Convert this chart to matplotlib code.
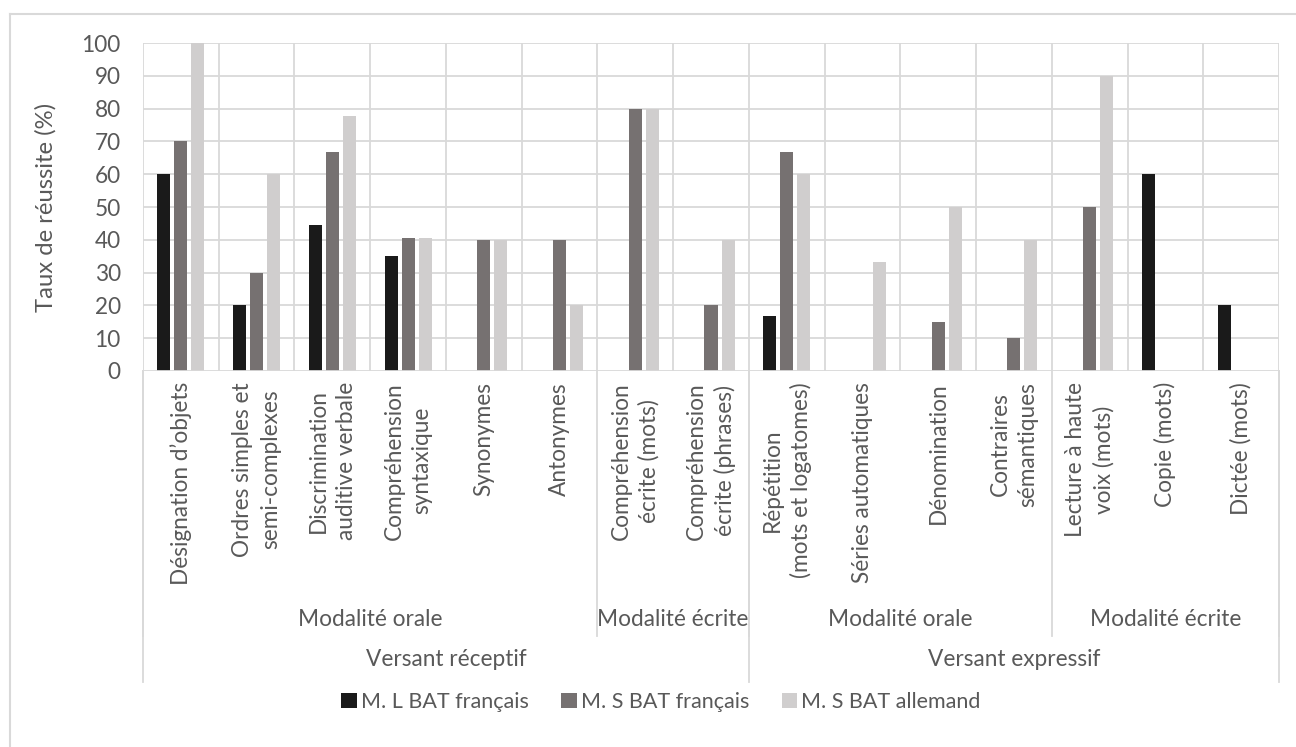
import matplotlib
matplotlib.use("Agg")
import matplotlib.pyplot as plt
from matplotlib.lines import Line2D
from matplotlib.patches import Patch
from matplotlib.transforms import blended_transform_factory
import numpy as np

plt.rcParams['font.family'] = ['Lato', 'DejaVu Sans']

# Subtests (leaf categories)
categories = [
    "Désignation d’objets",
    "Ordres simples et\nsemi-complexes",
    "Discrimination\nauditive verbale",
    "Compréhension\nsyntaxique",
    "Synonymes",
    "Antonymes",
    "Compréhension\nécrite (mots)",
    "Compréhension\nécrite (phrases)",
    "Répétition\n(mots et logatomes)",
    "Séries automatiques",
    "Dénomination",
    "Contraires\nsémantiques",
    "Lecture à haute\nvoix (mots)",
    "Copie (mots)",
    "Dictée (mots)",
]

# Grouping levels: (label, number of subtests)
modalites = [("Modalité orale", 6), ("Modalité écrite", 2),
             ("Modalité orale", 4), ("Modalité écrite", 3)]
versants = [("Versant réceptif", 8), ("Versant expressif", 7)]

series_names = ["M. L BAT français", "M. S BAT français", "M. S BAT allemand"]
ml_bat_fr = [60, 20, 44.4, 35, 0, 0, 0, 0, 16.7, 0, 0, 0, 0, 60, 20]
ms_bat_fr = [70, 30, 66.7, 40.5, 40, 40, 80, 20, 66.7, 0, 15, 10, 50, 0, 0]
ms_bat_de = [100, 60, 77.8, 40.5, 40, 20, 80, 40, 60, 33.3, 50, 40, 90, 0, 0]

colors = ["#1a1a1a", "#767171", "#d0cece"]
grid_col = "#d9d9d9"
text_col = "#595959"
fs = 16.3

W, H = 1296, 747
fig = plt.figure(figsize=(W / 100, H / 100), dpi=100)
fig.patch.set_facecolor("white")

left, right, top, bottom = 143, 1279, 43, 371
ax = fig.add_axes([left / W, 1 - bottom / H, (right - left) / W, (bottom - top) / H])

x = np.arange(len(categories))
bw = 0.172
step = 0.225
for i, (vals, col, name) in enumerate(zip([ml_bat_fr, ms_bat_fr, ms_bat_de], colors, series_names)):
    ax.bar(x + (i - 1) * step, vals, width=bw, color=col, linewidth=0, zorder=3, label=name)

ax.set_xlim(-0.5, len(categories) - 0.5)
ax.set_ylim(0, 100)
ax.set_yticks(np.arange(0, 101, 10))
ax.set_yticklabels([str(v) for v in range(0, 101, 10)], fontsize=fs, color=text_col)
ax.tick_params(axis='y', length=0, pad=16)

# Gridlines: horizontal at each tick, vertical at category boundaries
for v in range(10, 101, 10):
    ax.axhline(v, color=grid_col, lw=1.3, zorder=1)
for b in np.arange(-0.5, len(categories), 1.0):
    ax.axvline(b, color=grid_col, lw=1.3, zorder=1)
ax.axhline(0, color=grid_col, lw=1.3, zorder=4)

for s in ax.spines.values():
    s.set_visible(False)
ax.set_xticks([])

ax.set_ylabel("Taux de réussite (%)", fontsize=17.2, color=text_col)
ax.yaxis.set_label_coords((57 - left) / (right - left), 0.5)

# Leaf category labels (rotated)
trans = blended_transform_factory(ax.transData, fig.transFigure)
for xi, lab in zip(x, categories):
    ax.text(xi, 1 - 382 / H, lab, transform=trans, rotation=90, ha='center', va='top',
            multialignment='center', fontsize=fs, color=text_col, linespacing=1.4)

# Group labels and separators
y_axis = 1 - bottom / H
y_mod_end = 1 - 636 / H
y_ver_end = 1 - 682 / H

start = -0.5
fig.add_artist(Line2D([start, start], [y_axis, y_mod_end], transform=trans, color=grid_col, lw=1.3))
for lab, n in modalites:
    end = start + n
    ax.text((start + end) / 2, 1 - 620 / H, lab, transform=trans, ha='center', va='center',
            fontsize=fs, color=text_col)
    fig.add_artist(Line2D([end, end], [y_axis, y_mod_end], transform=trans, color=grid_col, lw=1.3))
    start = end

start = -0.5
fig.add_artist(Line2D([start, start], [y_axis, y_ver_end], transform=trans, color=grid_col, lw=1.3))
for lab, n in versants:
    end = start + n
    ax.text((start + end) / 2, 1 - 659 / H, lab, transform=trans, ha='center', va='center',
            fontsize=fs, color=text_col)
    fig.add_artist(Line2D([end, end], [y_axis, y_ver_end], transform=trans, color=grid_col, lw=1.3))
    start = end

# Legend
handles = [Patch(facecolor=c, edgecolor='none') for c in colors]
fig.legend(handles, series_names, loc='center', bbox_to_anchor=(661 / W, 1 - 702 / H), ncol=3,
           frameon=False, fontsize=15.5, labelcolor=text_col, handlelength=0.72, handleheight=0.72,
           handletextpad=0.2, columnspacing=1.5)

# Chart border
fig.add_artist(Line2D([9.5 / W, 9.5 / W], [0, 1 - 14 / H], transform=fig.transFigure, color=grid_col, lw=1.5))
fig.add_artist(Line2D([9.5 / W, 1], [1 - 14 / H, 1 - 14 / H], transform=fig.transFigure, color=grid_col, lw=1.5))

fig.savefig("out.png", dpi=100, facecolor="white")
